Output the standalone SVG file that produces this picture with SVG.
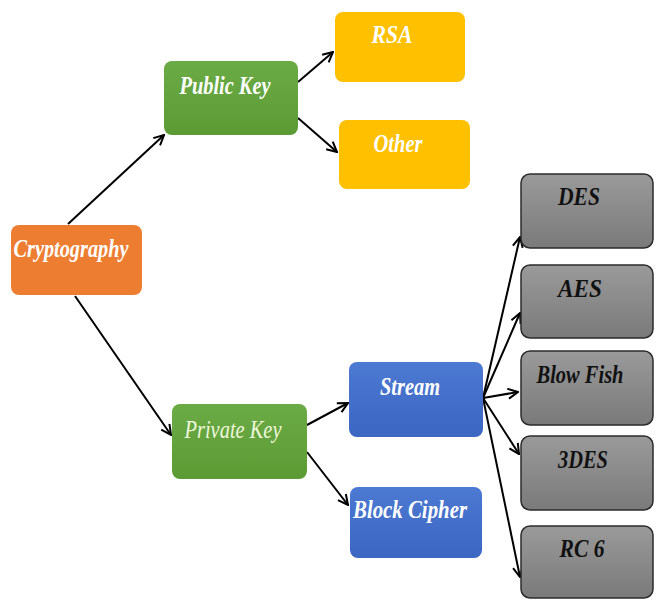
<svg xmlns="http://www.w3.org/2000/svg" width="657" height="600" viewBox="0 0 657 600">
  <style>
    .lbl { font-family: "Liberation Serif", "Times New Roman", serif; font-style: italic; font-weight: bold; font-size: 25px; text-anchor: middle; }
    .light { fill: #ffffff; }
    .dark { fill: #111111; }
    .edge { stroke: #000; stroke-width: 2; fill: none; marker-end: url(#arrow); }
  </style>
  <defs>
    <marker id="arrow" viewBox="0 0 12 12" refX="11" refY="6" markerWidth="12" markerHeight="12" markerUnits="userSpaceOnUse" orient="auto">
      <path d="M1,1 L11,6 L1,11" fill="none" stroke="#000" stroke-width="2"/>
    </marker>
    <linearGradient id="gGreen" x1="0" y1="0" x2="0" y2="1">
      <stop offset="0" stop-color="#6bab45"/>
      <stop offset="1" stop-color="#5c9b34"/>
    </linearGradient>
    <linearGradient id="gBlue" x1="0" y1="0" x2="0" y2="1">
      <stop offset="0" stop-color="#4c79d2"/>
      <stop offset="1" stop-color="#3b66c2"/>
    </linearGradient>
    <linearGradient id="gGray" x1="0" y1="0" x2="0" y2="1">
      <stop offset="0" stop-color="#9a9a9a"/>
      <stop offset="1" stop-color="#7a7a7a"/>
    </linearGradient>
  </defs>

  <rect width="657" height="600" fill="#ffffff"/>

  <g id="connectors">
    <line class="edge" x1="68" y1="224" x2="164" y2="135"/>
    <line class="edge" x1="75" y1="296" x2="171" y2="435"/>
    <line class="edge" x1="298" y1="82" x2="333" y2="52"/>
    <line class="edge" x1="298" y1="118" x2="337" y2="152"/>
    <line class="edge" x1="307" y1="425" x2="348" y2="403"/>
    <line class="edge" x1="307" y1="452" x2="348" y2="505"/>
    <line class="edge" x1="483" y1="398" x2="520" y2="237"/>
    <line class="edge" x1="483" y1="398" x2="520" y2="313"/>
    <line class="edge" x1="483" y1="398" x2="518" y2="392"/>
    <line class="edge" x1="483" y1="398" x2="519" y2="454"/>
    <line class="edge" x1="483" y1="398" x2="520" y2="577"/>
  </g>

  <g id="cryptography">
    <rect x="11" y="225" width="131" height="70" rx="8" fill="#ed7d31"/>
    <text class="lbl light" x="71" y="257" textLength="115" lengthAdjust="spacingAndGlyphs">Cryptography</text>
  </g>

  <g id="public-key">
    <rect x="164" y="61" width="134" height="74" rx="8" fill="url(#gGreen)"/>
    <text class="lbl light" x="225" y="94" textLength="91" lengthAdjust="spacingAndGlyphs">Public Key</text>
  </g>

  <g id="private-key">
    <rect x="172" y="404" width="135" height="75" rx="8" fill="url(#gGreen)"/>
    <text class="lbl" x="233" y="438" textLength="97" lengthAdjust="spacingAndGlyphs" style="font-weight:normal" fill="#eef7dc">Private Key</text>
  </g>

  <g id="rsa">
    <rect x="335" y="12" width="130" height="70" rx="8" fill="#ffc000"/>
    <text class="lbl light" x="392" y="43" textLength="41" lengthAdjust="spacingAndGlyphs">RSA</text>
  </g>

  <g id="other">
    <rect x="339" y="120" width="131" height="69" rx="8" fill="#ffc000"/>
    <text class="lbl light" x="398" y="152" textLength="49" lengthAdjust="spacingAndGlyphs">Other</text>
  </g>

  <g id="stream">
    <rect x="349" y="362" width="134" height="75" rx="8" fill="url(#gBlue)"/>
    <text class="lbl light" x="410" y="395" textLength="60" lengthAdjust="spacingAndGlyphs">Stream</text>
  </g>

  <g id="block-cipher">
    <rect x="350" y="487" width="132" height="71" rx="8" fill="url(#gBlue)"/>
    <text class="lbl light" x="410" y="518" textLength="114" lengthAdjust="spacingAndGlyphs">Block Cipher</text>
  </g>

  <g id="des">
    <rect x="521" y="174" width="132" height="74" rx="9" fill="url(#gGray)" stroke="#2b2b2b" stroke-width="1.5"/>
    <text class="lbl dark" x="579" y="205" textLength="42" lengthAdjust="spacingAndGlyphs">DES</text>
  </g>

  <g id="aes">
    <rect x="521" y="265" width="132" height="73" rx="9" fill="url(#gGray)" stroke="#2b2b2b" stroke-width="1.5"/>
    <text class="lbl dark" x="580" y="297" textLength="44" lengthAdjust="spacingAndGlyphs">AES</text>
  </g>

  <g id="blow-fish">
    <rect x="521" y="351" width="132" height="74" rx="9" fill="url(#gGray)" stroke="#2b2b2b" stroke-width="1.5"/>
    <text class="lbl dark" x="580" y="383" textLength="87" lengthAdjust="spacingAndGlyphs">Blow Fish</text>
  </g>

  <g id="triple-des">
    <rect x="521" y="436" width="132" height="74" rx="9" fill="url(#gGray)" stroke="#2b2b2b" stroke-width="1.5"/>
    <text class="lbl dark" x="583" y="468" textLength="50" lengthAdjust="spacingAndGlyphs">3DES</text>
  </g>

  <g id="rc6">
    <rect x="521" y="526" width="132" height="72" rx="9" fill="url(#gGray)" stroke="#2b2b2b" stroke-width="1.5"/>
    <text class="lbl dark" x="582" y="557" textLength="45" lengthAdjust="spacingAndGlyphs">RC 6</text>
  </g>
</svg>
